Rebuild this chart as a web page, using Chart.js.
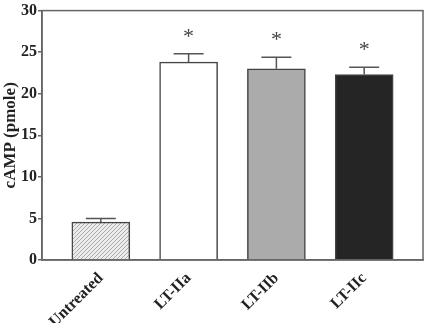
<!DOCTYPE html>
<html>
<head>
<meta charset="utf-8">
<script src="https://cdn.jsdelivr.net/npm/chart.js@4"></script>
<style>
  body { margin: 0; background: #fff; }
  #wrap { width: 425px; height: 323px; }
</style>
</head>
<body>
<div id="wrap"><canvas id="myChart"></canvas></div>
<script>
const groups = ['Untreated', 'LT-IIa', 'LT-IIb', 'LT-IIc'];
const means = [4.55, 23.8, 23.0, 22.3];
const errors = [0.45, 1.0, 1.4, 0.9];
const marks = ['', '*', '*', '*'];
const yTicks = [0, 5, 10, 15, 20, 25, 30];

const serif = '"Liberation Serif", "Times New Roman", serif';

// light grey hatch for the untreated bar
function hatch(){
  const c = document.createElement('canvas');
  c.width = 4; c.height = 4;
  const g = c.getContext('2d');
  g.fillStyle = '#ececec';
  g.fillRect(0, 0, 4, 4);
  g.strokeStyle = '#9a9a9a';
  g.lineWidth = 0.8;
  g.beginPath();
  g.moveTo(0, 4); g.lineTo(4, 0);
  g.moveTo(-1, 1); g.lineTo(1, -1);
  g.moveTo(3, 5); g.lineTo(5, 3);
  g.stroke();
  return g.createPattern(c, 'repeat');
}

const errorBars = {
  id: 'errorBars',
  afterDatasetsDraw(chart){
    const ctx = chart.ctx;
    const y = chart.scales.y;
    const meta = chart.getDatasetMeta(0);
    ctx.save();
    meta.data.forEach((bar, i) => {
      const top = y.getPixelForValue(means[i]);
      const hi = y.getPixelForValue(means[i] + errors[i]);
      ctx.strokeStyle = '#555';
      ctx.lineWidth = 1.5;
      ctx.beginPath();
      ctx.moveTo(bar.x, top);
      ctx.lineTo(bar.x, hi);
      ctx.moveTo(bar.x - 15, hi);
      ctx.lineTo(bar.x + 15, hi);
      ctx.stroke();
      if (marks[i]) {
        ctx.fillStyle = '#444';
        ctx.font = '22px ' + serif;
        ctx.textAlign = 'center';
        ctx.textBaseline = 'middle';
        ctx.fillText(marks[i], bar.x, hi - 17);
      }
    });
    // box around the plot
    const a = chart.chartArea;
    ctx.strokeStyle = '#666';
    ctx.lineWidth = 1.5;
    ctx.strokeRect(a.left, a.top, a.right - a.left, a.bottom - a.top);
    ctx.restore();
  }
};

const ctx = document.getElementById('myChart');

new Chart(ctx, {
  type: 'bar',
  data: {
    datasets: [{
      data: means.map((v, i) => ({x: i, y: v})),
      backgroundColor: [hatch(), '#ffffff', '#ababab', '#252525'],
      borderColor: '#444',
      borderWidth: 1.5,
      borderSkipped: 'bottom',
      barThickness: 58
    }]
  },
  options: {
    responsive: true,
    maintainAspectRatio: false,
    animation: false,
    layout: { padding: { top: 6, right: 2, left: 0, bottom: 0 } },
    plugins: { legend: { display: false }, tooltip: { enabled: false } },
    scales: {
      x: {
        type: 'linear',
        offset: false,
        min: -0.67,
        max: 3.67,
        afterBuildTicks: s => { s.ticks = groups.map((g, i) => ({value: i})); },
        afterFit: s => { s.height = 63; },
        grid: { display: false },
        border: { color: '#666', width: 1.5 },
        ticks: {
          minRotation: 45,
          maxRotation: 45,
          padding: 1,
          color: '#222',
          font: { family: serif, size: 16, weight: 'bold' },
          callback: v => groups[v]
        }
      },
      y: {
        min: 0,
        max: 30,
        afterBuildTicks: s => { s.ticks = yTicks.map(v => ({value: v})); },
        afterFit: s => { s.width = 42; },
        grid: { drawOnChartArea: false, tickLength: 4, color: '#666', lineWidth: 1.5 },
        border: { color: '#666', width: 1.5 },
        title: {
          display: true,
          text: 'cAMP (pmole)',
          color: '#222',
          padding: 0,
          font: { family: serif, size: 17, weight: 'bold' }
        },
        ticks: {
          padding: 1,
          color: '#222',
          font: { family: serif, size: 16, weight: 'bold' }
        }
      }
    }
  },
  plugins: [errorBars]
});
</script>
</body>
</html>
